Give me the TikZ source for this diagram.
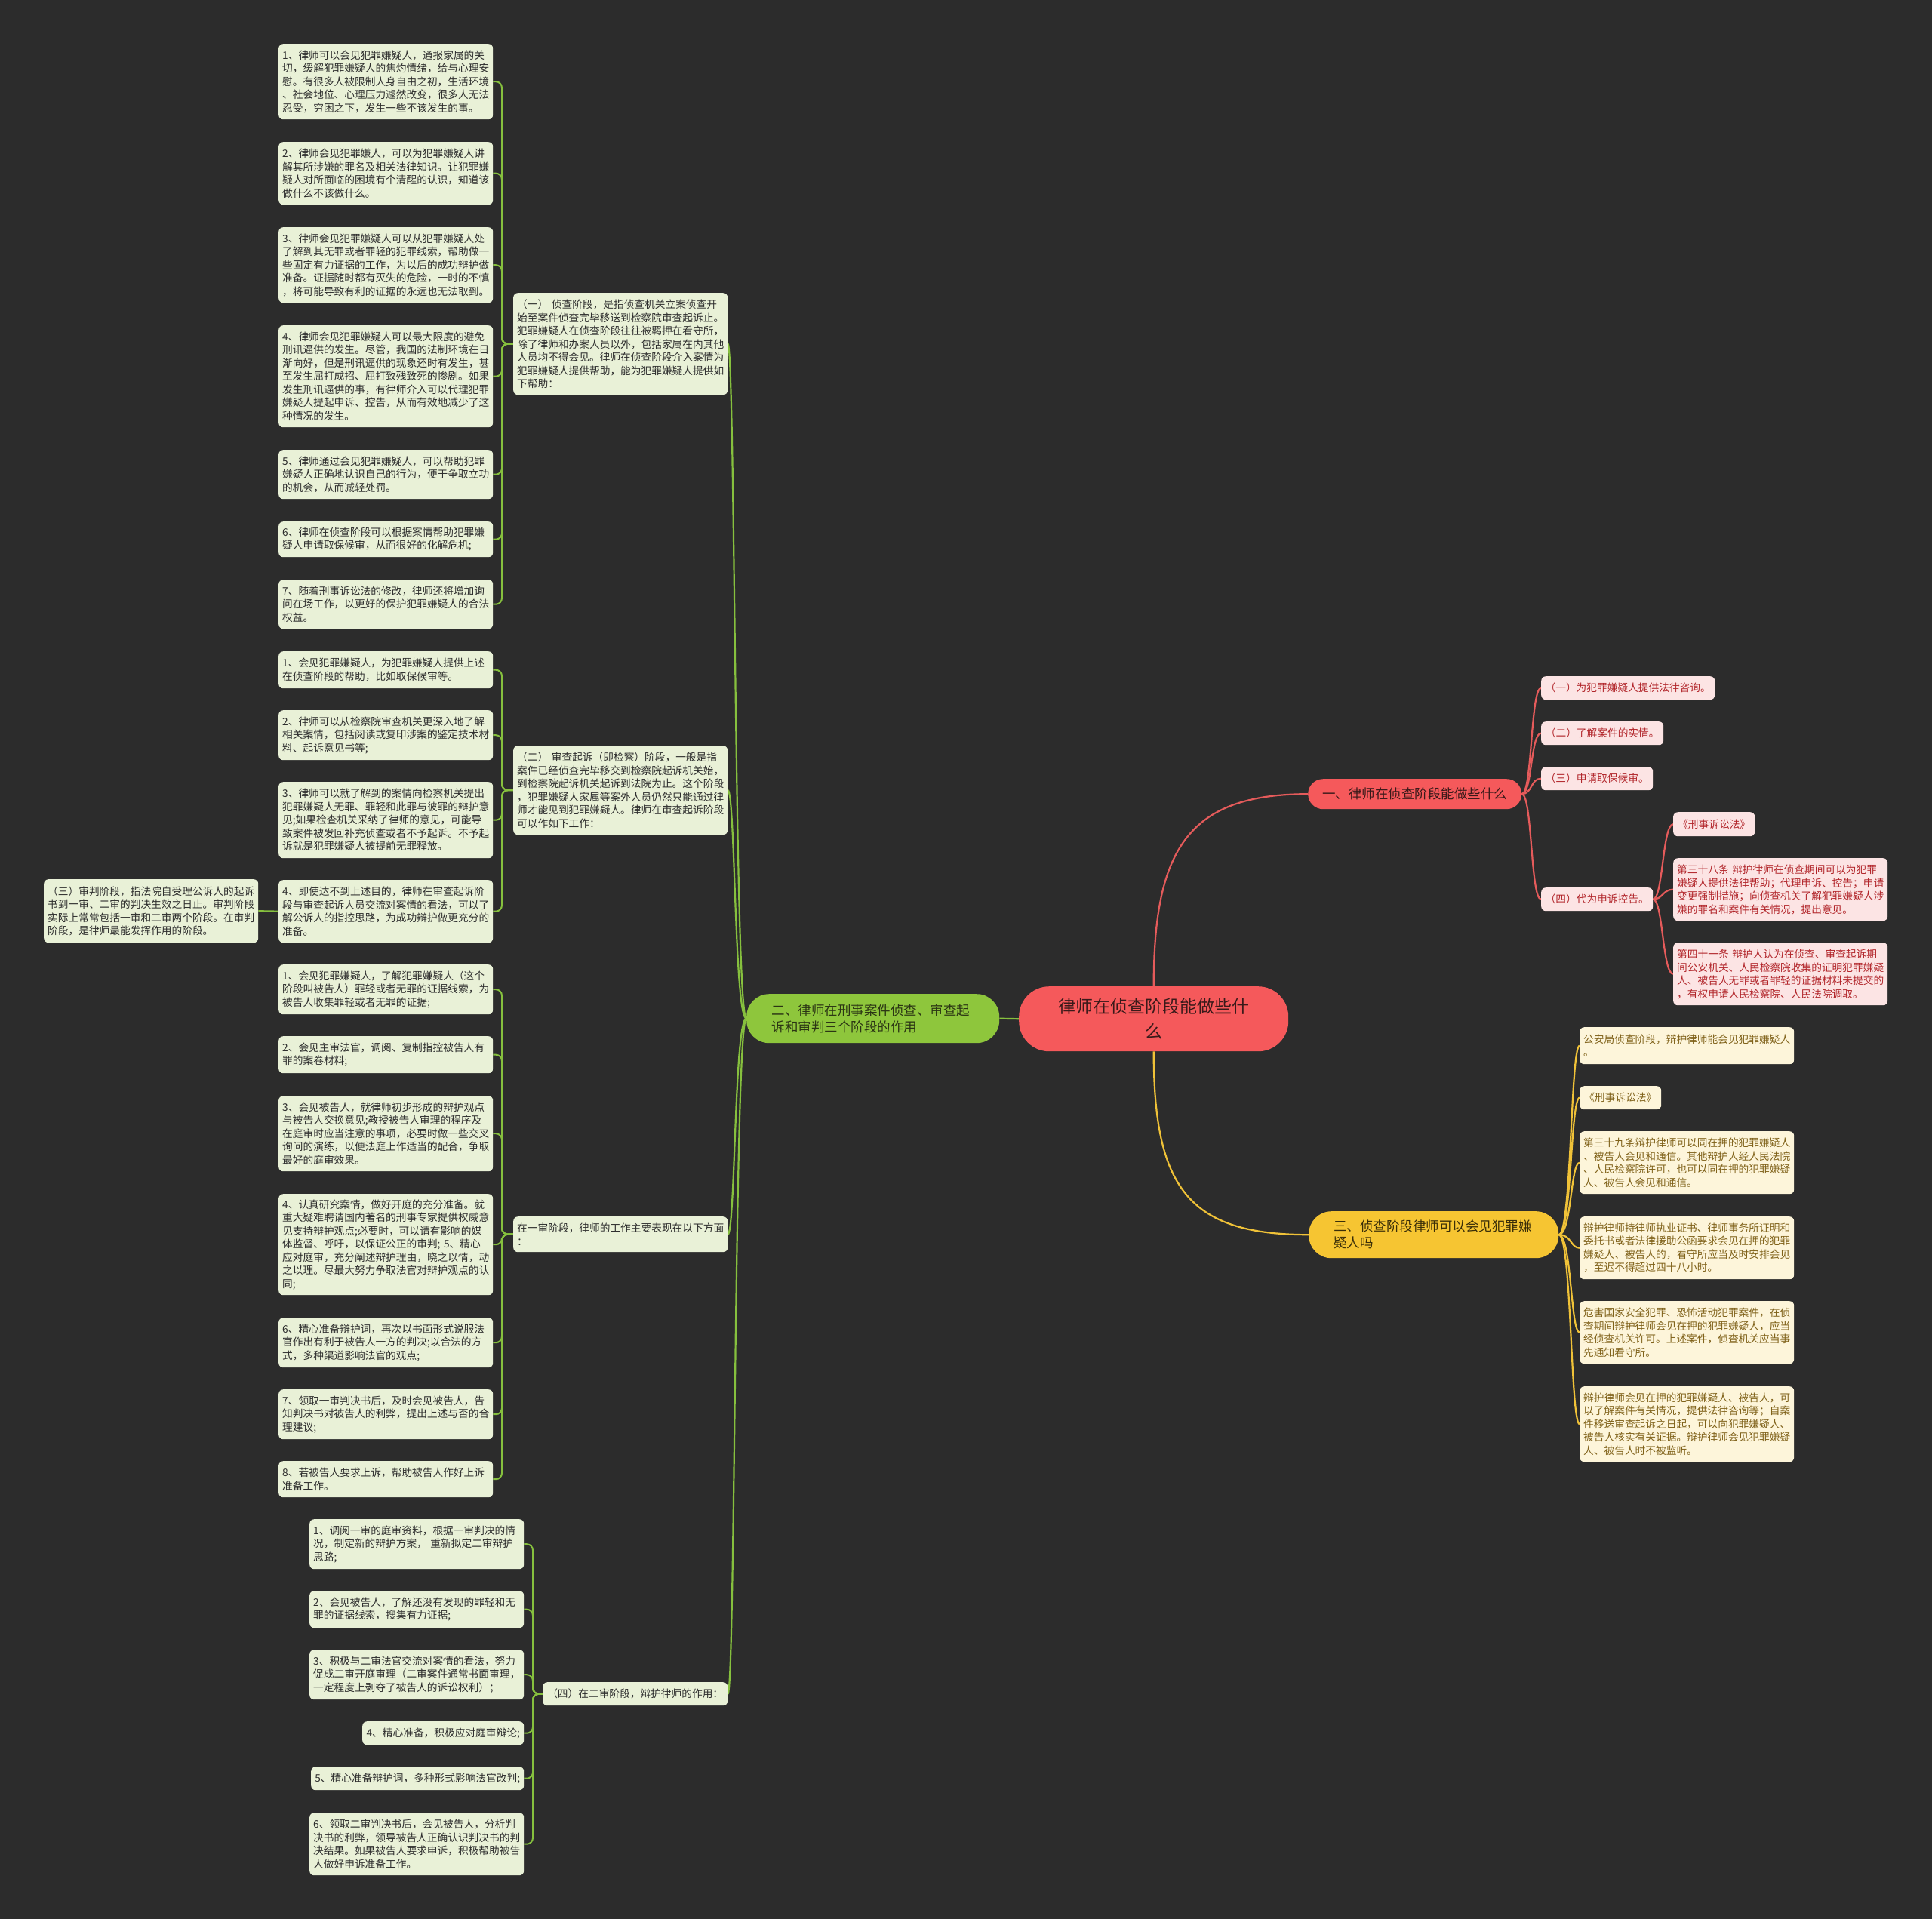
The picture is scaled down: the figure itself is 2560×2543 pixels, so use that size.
\documentclass[tikz,border=0pt]{standalone}
\usepackage{fontspec}
\newfontfamily\cjk{Noto Sans CJK SC}
\pgfdeclarelayer{back}
\pgfdeclarelayer{lines}
\pgfsetlayers{back,lines,main}
\definecolor{bgc}{HTML}{2C2C2C}
\definecolor{gfill}{HTML}{E9F1D7}
\definecolor{gtext}{HTML}{2E2E2E}
\definecolor{rfill}{HTML}{FCE4E4}
\definecolor{rtext}{HTML}{B2262B}
\definecolor{yfill}{HTML}{FDF5DA}
\definecolor{ytext}{HTML}{80621A}
\definecolor{gl}{HTML}{86C03E}
\definecolor{rl}{HTML}{E55B5B}
\definecolor{yl}{HTML}{F0C238}
\definecolor{rootc}{HTML}{F5595B}
\definecolor{greenc}{HTML}{8EC63C}
\definecolor{yellowc}{HTML}{F6C532}
\definecolor{darkt}{HTML}{3A1A1A}
\definecolor{greent}{HTML}{2B3514}
\definecolor{yellowt}{HTML}{3A2E08}
\begin{document}
\begin{tikzpicture}[x=1pt,y=-1pt,
  base/.style={rectangle, rounded corners=6pt, inner xsep=5pt, inner ysep=0pt, anchor=north west, align=left, font=\cjk\fontsize{13.7}{17.5}\selectfont},
  gleaf/.style={base, fill=gfill, text=gtext},
  rleaf/.style={base, fill=rfill, text=rtext},
  yleaf/.style={base, fill=yfill, text=ytext},
  W/.style={text width=274pt},
  gline/.style={draw=gl, line width=2pt, rounded corners=8pt},
  gcurve/.style={draw=gl, line width=2.2pt},
  rcurve/.style={draw=rl, line width=2.2pt},
  ycurve/.style={draw=yl, line width=2.2pt},
  mainbox/.style={rectangle, anchor=north west, font=\cjk\fontsize{17.5}{22}\selectfont}
]
\begin{pgfonlayer}{back}
\fill[bgc] (0,0) rectangle (2560,2543);
\end{pgfonlayer}
\useasboundingbox (0,0) rectangle (2560,2543);

% ---------- root and main branches ----------
\node[rectangle, anchor=north west, fill=rootc, text=darkt, rounded corners=40pt, minimum width=357pt, minimum height=86pt, align=center, font=\cjk\fontsize{23}{33}\selectfont] (R) at (1350,1307) {律师在侦查阶段能做些什\\么};
\node[mainbox, fill=greenc, text=greent, rounded corners=30pt, text width=268pt, inner xsep=33.5pt, minimum height=65pt, align=left] (M2) at (989,1317) {二、律师在刑事案件侦查、审查起\\诉和审判三个阶段的作用};
\node[mainbox, fill=rootc, text=darkt, rounded corners=20pt, minimum width=283pt, minimum height=40pt] (M1) at (1733,1032) {一、律师在侦查阶段能做些什么};
\node[mainbox, fill=yellowc, text=yellowt, rounded corners=30pt, text width=265pt, inner xsep=33pt, minimum height=62pt, align=left] (M3) at (1734,1605) {三、侦查阶段律师可以会见犯罪嫌\\疑人吗};

% ---------- group (一) ----------
\node[gleaf, W, minimum height=135pt] (S1) at (680,388) {（一）~侦查阶段，是指侦查机关立案侦查开\\始至案件侦查完毕移送到检察院审查起诉止。\\犯罪嫌疑人在侦查阶段往往被羁押在看守所，\\除了律师和办案人员以外，包括家属在内其他\\人员均不得会见。律师在侦查阶段介入案情为\\犯罪嫌疑人提供帮助，能为犯罪嫌疑人提供如\\下帮助：};
\node[gleaf, W, minimum height=100pt] (a1) at (369,58) {1、律师可以会见犯罪嫌疑人，通报家属的关\\切，缓解犯罪嫌疑人的焦灼情绪，给与心理安\\慰。有很多人被限制人身自由之初，生活环境\\、社会地位、心理压力遽然改变，很多人无法\\忍受，穷困之下，发生一些不该发生的事。};
\node[gleaf, W, minimum height=83pt] (a2) at (369,188) {2、律师会见犯罪嫌人，可以为犯罪嫌疑人讲\\解其所涉嫌的罪名及相关法律知识。让犯罪嫌\\疑人对所面临的困境有个清醒的认识，知道该\\做什么不该做什么。};
\node[gleaf, W, minimum height=100pt] (a3) at (369,301) {3、律师会见犯罪嫌疑人可以从犯罪嫌疑人处\\了解到其无罪或者罪轻的犯罪线索，帮助做一\\些固定有力证据的工作，为以后的成功辩护做\\准备。证据随时都有灭失的危险，一时的不慎\\，将可能导致有利的证据的永远也无法取到。};
\node[gleaf, W, minimum height=135pt] (a4) at (369,431) {4、律师会见犯罪嫌疑人可以最大限度的避免\\刑讯逼供的发生。尽管，我国的法制环境在日\\渐向好，但是刑讯逼供的现象还时有发生，甚\\至发生屈打成招、屈打致残致死的惨剧。如果\\发生刑讯逼供的事，有律师介入可以代理犯罪\\嫌疑人提起申诉、控告，从而有效地减少了这\\种情况的发生。};
\node[gleaf, W, minimum height=65pt] (a5) at (369,596) {5、律师通过会见犯罪嫌疑人，可以帮助犯罪\\嫌疑人正确地认识自己的行为，便于争取立功\\的机会，从而减轻处罚。};
\node[gleaf, W, minimum height=47pt] (a6) at (369,691) {6、律师在侦查阶段可以根据案情帮助犯罪嫌\\疑人申请取保候审，从而很好的化解危机;};
\node[gleaf, W, minimum height=65pt] (a7) at (369,768) {7、随着刑事诉讼法的修改，律师还将增加询\\问在场工作，以更好的保护犯罪嫌疑人的合法\\权益。};

% ---------- group (二) ----------
\node[gleaf, W, minimum height=118pt] (S2) at (680,988) {（二）~审查起诉（即检察）阶段，一般是指\\案件已经侦查完毕移交到检察院起诉机关始，\\到检察院起诉机关起诉到法院为止。这个阶段\\，犯罪嫌疑人家属等案外人员仍然只能通过律\\师才能见到犯罪嫌疑人。律师在审查起诉阶段\\可以作如下工作：};
\node[gleaf, W, minimum height=49pt] (b1) at (369,863) {1、会见犯罪嫌疑人，为犯罪嫌疑人提供上述\\在侦查阶段的帮助，比如取保候审等。};
\node[gleaf, W, minimum height=66pt] (b2) at (369,941) {2、律师可以从检察院审查机关更深入地了解\\相关案情，包括阅读或复印涉案的鉴定技术材\\料、起诉意见书等;};
\node[gleaf, W, minimum height=101pt] (b3) at (369,1036) {3、律师可以就了解到的案情向检察机关提出\\犯罪嫌疑人无罪、罪轻和此罪与彼罪的辩护意\\见;如果检查机关采纳了律师的意见，可能导\\致案件被发回补充侦查或者不予起诉。不予起\\诉就是犯罪嫌疑人被提前无罪释放。};
\node[gleaf, W, minimum height=83pt] (b4) at (369,1166) {4、即使达不到上述目的，律师在审查起诉阶\\段与审查起诉人员交流对案情的看法，可以了\\解公诉人的指控思路，为成功辩护做更充分的\\准备。};
\node[gleaf, W, minimum height=84pt] (T3) at (58,1165) {（三）审判阶段，指法院自受理公诉人的起诉\\书到一审、二审的判决生效之日止。审判阶段\\实际上常常包括一审和二审两个阶段。在审判\\阶段，是律师最能发挥作用的阶段。};

% ---------- group 一审 ----------
\node[gleaf, W, minimum height=47pt] (S3) at (680,1612) {在一审阶段，律师的工作主要表现在以下方面\\：};
\node[gleaf, W, minimum height=66pt] (c1) at (369,1278) {1、会见犯罪嫌疑人，了解犯罪嫌疑人（这个\\阶段叫被告人）罪轻或者无罪的证据线索，为\\被告人收集罪轻或者无罪的证据;};
\node[gleaf, W, minimum height=49pt] (c2) at (369,1373) {2、会见主审法官，调阅、复制指控被告人有\\罪的案卷材料;};
\node[gleaf, W, minimum height=100pt] (c3) at (369,1452) {3、会见被告人，就律师初步形成的辩护观点\\与被告人交换意见;教授被告人审理的程序及\\在庭审时应当注意的事项，必要时做一些交叉\\询问的演练，以便法庭上作适当的配合，争取\\最好的庭审效果。};
\node[gleaf, W, minimum height=134pt] (c4) at (369,1582) {4、认真研究案情，做好开庭的充分准备。就\\重大疑难聘请国内著名的刑事专家提供权威意\\见支持辩护观点;必要时，可以请有影响的媒\\体监督、呼吁，以保证公正的审判;~5、精心\\应对庭审，充分阐述辩护理由，晓之以情，动\\之以理。尽最大努力争取法官对辩护观点的认\\同;};
\node[gleaf, W, minimum height=66pt] (c5) at (369,1746) {6、精心准备辩护词，再次以书面形式说服法\\官作出有利于被告人一方的判决;以合法的方\\式，多种渠道影响法官的观点;};
\node[gleaf, W, minimum height=66pt] (c6) at (369,1841) {7、领取一审判决书后，及时会见被告人，告\\知判决书对被告人的利弊，提出上述与否的合\\理建议;};
\node[gleaf, W, minimum height=48pt] (c7) at (369,1936) {8、若被告人要求上诉，帮助被告人作好上诉\\准备工作。};

% ---------- group (四) ----------
\node[gleaf, minimum width=245pt, minimum height=31pt] (S4) at (719,2229) {（四）在二审阶段，辩护律师的作用：};
\node[gleaf, W, minimum height=66pt] (d1) at (410,2013) {1、调阅一审的庭审资料，根据一审判决的情\\况，制定新的辩护方案，~重新拟定二审辩护\\思路;};
\node[gleaf, W, minimum height=49pt] (d2) at (410,2108) {2、会见被告人，了解还没有发现的罪轻和无\\罪的证据线索，搜集有力证据;};
\node[gleaf, W, minimum height=66pt] (d3) at (410,2186) {3、积极与二审法官交流对案情的看法，努力\\促成二审开庭审理（二审案件通常书面审理，\\一定程度上剥夺了被告人的诉讼权利）；};
\node[gleaf, minimum width=214pt, minimum height=31pt] (d4) at (480,2281) {4、精心准备，积极应对庭审辩论;};
\node[gleaf, minimum width=282pt, minimum height=31pt] (d5) at (412,2341) {5、精心准备辩护词，多种形式影响法官改判;};
\node[gleaf, W, minimum height=83pt] (d6) at (410,2402) {6、领取二审判决书后，会见被告人，分析判\\决书的利弊，领导被告人正确认识判决书的判\\决结果。如果被告人要求申诉，积极帮助被告\\人做好申诉准备工作。};

% ---------- branch 一 children ----------
\node[rleaf, minimum width=230pt, minimum height=31pt] (e1) at (2042,896) {（一）为犯罪嫌疑人提供法律咨询。};
\node[rleaf, minimum width=162pt, minimum height=31pt] (e2) at (2042,956) {（二）了解案件的实情。};
\node[rleaf, minimum width=148pt, minimum height=31pt] (e3) at (2042,1016) {（三）申请取保候审。};
\node[rleaf, minimum width=148pt, minimum height=31pt] (e4) at (2042,1176) {（四）代为申诉控告。};
\node[rleaf, minimum width=108pt, minimum height=32pt] (f1) at (2217,1076) {《刑事诉讼法》};
\node[rleaf, W, minimum height=83pt] (f2) at (2217,1137) {第三十八条~辩护律师在侦查期间可以为犯罪\\嫌疑人提供法律帮助；代理申诉、控告；申请\\变更强制措施；向侦查机关了解犯罪嫌疑人涉\\嫌的罪名和案件有关情况，提出意见。};
\node[rleaf, W, minimum height=83pt] (f3) at (2217,1249) {第四十一条~辩护人认为在侦查、审查起诉期\\间公安机关、人民检察院收集的证明犯罪嫌疑\\人、被告人无罪或者罪轻的证据材料未提交的\\，有权申请人民检察院、人民法院调取。};

% ---------- branch 三 children ----------
\node[yleaf, W, minimum height=49pt] (g1) at (2093,1361) {公安局侦查阶段，辩护律师能会见犯罪嫌疑人\\。};
\node[yleaf, minimum width=108pt, minimum height=31pt] (g2) at (2093,1439) {《刑事诉讼法》};
\node[yleaf, W, minimum height=83pt] (g3) at (2093,1499) {第三十九条辩护律师可以同在押的犯罪嫌疑人\\、被告人会见和通信。其他辩护人经人民法院\\、人民检察院许可，也可以同在押的犯罪嫌疑\\人、被告人会见和通信。};
\node[yleaf, W, minimum height=83pt] (g4) at (2093,1612) {辩护律师持律师执业证书、律师事务所证明和\\委托书或者法律援助公函要求会见在押的犯罪\\嫌疑人、被告人的，看守所应当及时安排会见\\，至迟不得超过四十八小时。};
\node[yleaf, W, minimum height=83pt] (g5) at (2093,1724) {危害国家安全犯罪、恐怖活动犯罪案件，在侦\\查期间辩护律师会见在押的犯罪嫌疑人，应当\\经侦查机关许可。上述案件，侦查机关应当事\\先通知看守所。};
\node[yleaf, W, minimum height=100pt] (g6) at (2093,1837) {辩护律师会见在押的犯罪嫌疑人、被告人，可\\以了解案件有关情况，提供法律咨询等；自案\\件移送审查起诉之日起，可以向犯罪嫌疑人、\\被告人核实有关证据。辩护律师会见犯罪嫌疑\\人、被告人时不被监听。};

% ---------- connectors ----------
\begin{pgfonlayer}{lines}
\draw[gcurve] (R.west) -- (M2.east);
\draw[rcurve] (R.north) .. controls +(0,-180) and +(-160,0) .. (M1.west);
\draw[ycurve] (R.south) .. controls +(0,180) and +(-160,0) .. (M3.west);
\foreach \s in {S1,S2,S3,S4}
  \draw[gcurve] (M2.west) .. controls +(-16,0) and +(10,0) .. (\s.east);
\foreach \c in {a1,a2,a3,a4,a5,a6,a7}
  \draw[gline] (S1.west) -- ++(-15,0) |- (\c.east);
\foreach \c in {b1,b2,b3,b4}
  \draw[gline] (S2.west) -- ++(-15,0) |- (\c.east);
\draw[gcurve] (T3.east) -- (b4.west);
\foreach \c in {c1,c2,c3,c4,c5,c6,c7}
  \draw[gline] (S3.west) -- ++(-15,0) |- (\c.east);
\foreach \c in {d1,d2,d3,d4,d5,d6}
  \draw[gline] (S4.west) -- ++(-13,0) |- (\c.east);
\foreach \c in {e1,e2,e3,e4}
  \draw[rcurve] (M1.east) .. controls +(14,0) and +(-14,0) .. (\c.west);
\foreach \c in {f1,f2,f3}
  \draw[rcurve] (e4.east) .. controls +(13,0) and +(-14,0) .. (\c.west);
\foreach \c in {g1,g2,g3,g4,g5,g6}
  \draw[ycurve] (M3.east) .. controls +(17,0) and +(-12,0) .. (\c.west);
\end{pgfonlayer}
\end{tikzpicture}
\end{document}
